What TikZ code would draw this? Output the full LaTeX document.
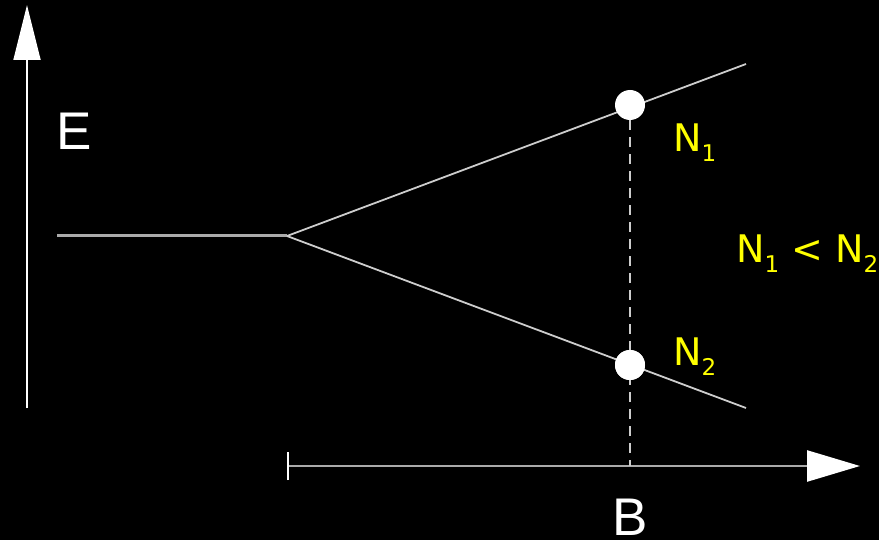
\documentclass[tikz,border=0pt]{standalone}
\usepackage{fontspec}
\setmainfont{DejaVu Sans}
\newfontfamily\labfont{Liberation Sans}
\usetikzlibrary{arrows.meta}
\definecolor{lineg}{RGB}{205,205,205}
\definecolor{axisg}{RGB}{170,170,170}
\definecolor{ylw}{RGB}{255,255,0}
\newcommand{\Nsub}[1]{N\raisebox{-10pt}{\fontsize{23}{23}\selectfont #1}}
\begin{document}
\begin{tikzpicture}[x=1pt,y=-1pt,
  branch/.style={draw=lineg,line width=1.8pt},
  axisline/.style={draw=white,line width=1.8pt},
  dot/.style={circle,fill=white,inner sep=0pt,minimum size=30pt},
  ylab/.style={text=ylw,inner sep=0pt,anchor=base west,font=\fontsize{38}{40}\selectfont},
  wlab/.style={text=white,inner sep=0pt,anchor=base west,font=\labfont\fontsize{53}{55}\selectfont}]
\fill[black] (0,0) rectangle (879,540);
\useasboundingbox (0,0) rectangle (879,540);
% coordinates
\coordinate (ebot) at (27,408);
\coordinate (etop) at (27,5);
\coordinate (lstart) at (57,236);
\coordinate (split) at (287,236);
\coordinate (uend) at (746,64);
\coordinate (lend) at (746,408);
\coordinate (bstart) at (287,466);
\coordinate (btip) at (860,466);
\coordinate (bmark) at (630,466);
% axes
\draw[axisline,-{Triangle[length=55pt,width=27pt,fill=white]}] (ebot) -- (etop);
\draw[draw=axisg,line width=2.5pt,{Bar[width=28pt,line width=1.8pt,color=white]}-{Triangle[length=53pt,width=31pt,fill=white,color=white]}] (bstart) -- (btip);
% levels
\draw[draw=axisg,line width=3pt] (lstart) -- (split);
\draw[branch] (split) -- (uend);
\draw[branch] (split) -- (lend);
% circles positions
\path (split) -- (uend) coordinate[pos=0.7472] (p1);
\node[dot] (n1) at (630,105) {};
\node[dot] (n2) at (630,365) {};
\draw[draw=lineg,line width=1.5pt,dash pattern=on 10pt off 7pt] (n1) -- (bmark);
\node[dot] at (n2) {};
% labels
\node[wlab] (elab) at (56,150) {E};
\node[wlab] (blab) at (612,535) {B};
\node[ylab] (l1) at (673,152) {\Nsub{1}};
\node[ylab] (l2) at (673,365) {\Nsub{2}};
\node[ylab] (l3) at (736,263) {\Nsub{1} < \Nsub{2}};
\end{tikzpicture}
\end{document}
